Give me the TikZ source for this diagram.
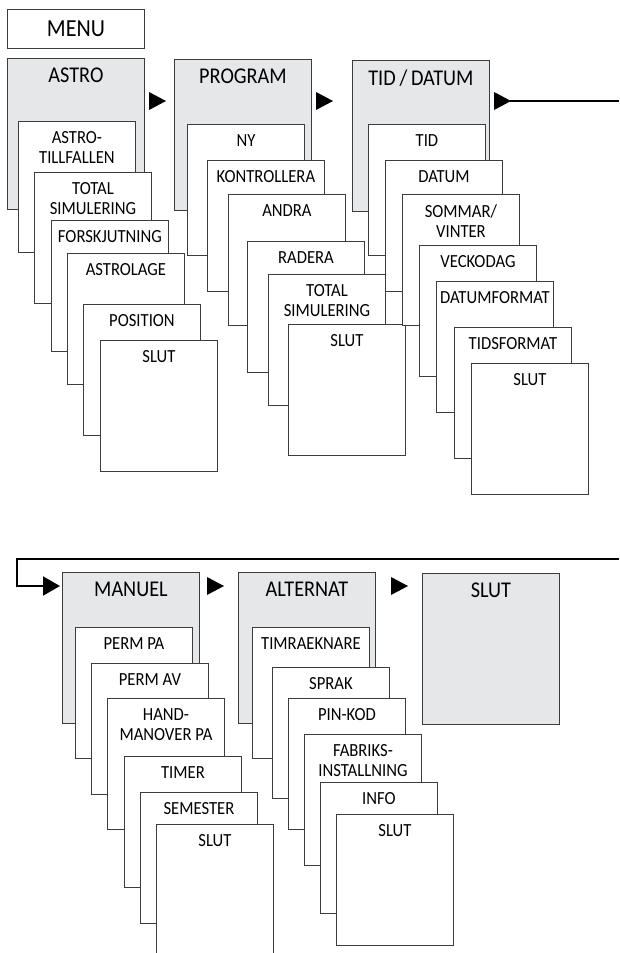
\documentclass[tikz,border=0pt]{standalone}
\usepackage{fontspec}
\setmainfont{Carlito}[FakeStretch=0.9]
\usetikzlibrary{arrows.meta}
\definecolor{panelgray}{RGB}{230,231,232}
\definecolor{edgegray}{RGB}{60,60,60}

\begin{document}
\begin{tikzpicture}[x=1pt, y=-1pt, >={Triangle[length=17pt,width=19pt]},
    box/.style={draw=edgegray, line width=0.9pt, anchor=north west, inner sep=0pt},
    panel/.style={box, fill=panelgray, minimum width=137pt, minimum height=151pt},
    card/.style={box, fill=white, minimum width=117pt, minimum height=131pt},
    cardtxt/.style={anchor=north, align=center, inner sep=0pt, yshift=-10pt, font=\fontsize{18.5}{20}\selectfont},
    paneltxt/.style={cardtxt, font=\fontsize{22.5}{24}\selectfont},
    link/.style={line width=2pt, black}]
  \clip (0,0) rectangle (619,953);
  \node[box, minimum width=137pt, minimum height=39pt, font=\fontsize{24.5}{26}\selectfont] (menu) at (7,9) {MENU};

  \node[panel, label={[paneltxt]north:ASTRO}] (astro) at (7,58) {};
  \node[card, label={[cardtxt]north:{ASTRO-\\TILLFALLEN}}] (as1) at (18,121) {};
  \node[card, label={[cardtxt]north:{TOTAL\\SIMULERING}}] (as2) at (34,172) {};
  \node[card, label={[cardtxt]north:FORSKJUTNING}] (as3) at (51,220) {};
  \node[card, label={[cardtxt]north:ASTROLAGE}] (as4) at (67,253) {};
  \node[card, label={[cardtxt]north:POSITION}] (as5) at (83,304) {};
  \node[card, label={[cardtxt]north:SLUT}] (as6) at (100,340) {};

  \node[panel, label={[paneltxt]north:PROGRAM}] (prog) at (174,59) {};
  \node[card, label={[cardtxt]north:NY}] (pr1) at (187,124) {};
  \node[card, label={[cardtxt]north:KONTROLLERA}] (pr2) at (207,160) {};
  \node[card, label={[cardtxt]north:ANDRA}] (pr3) at (228,194) {};
  \node[card, label={[cardtxt]north:RADERA}] (pr4) at (247,241) {};
  \node[card, label={[cardtxt]north:{TOTAL\\SIMULERING}}] (pr5) at (268,274) {};
  \node[card, label={[cardtxt]north:SLUT}] (pr6) at (288,324) {};

  \node[panel, label={[paneltxt]north:TID\,/\,DATUM}] (tid) at (352,60) {};
  \node[card, label={[cardtxt]north:TID}] (td1) at (368,124) {};
  \node[card, label={[cardtxt]north:DATUM}] (td2) at (385,160) {};
  \node[card, label={[cardtxt]north:{SOMMAR/\\VINTER}}] (td3) at (402,194) {};
  \node[card, label={[cardtxt]north:VECKODAG}] (td4) at (419,245) {};
  \node[card, label={[cardtxt]north:DATUMFORMAT}] (td5) at (436,281) {};
  \node[card, label={[cardtxt]north:TIDSFORMAT}] (td6) at (454,327) {};
  \node[card, label={[cardtxt]north:SLUT}] (td7) at (471,363) {};

  \node[panel, label={[paneltxt]north:MANUEL}] (manuel) at (62,572) {};
  \node[card, label={[cardtxt]north:PERM PA}] (ma1) at (75,627) {};
  \node[card, label={[cardtxt]north:PERM AV}] (ma2) at (91,663) {};
  \node[card, label={[cardtxt]north:{HAND-\\MANOVER PA}}] (ma3) at (107,698) {};
  \node[card, label={[cardtxt]north:TIMER}] (ma4) at (124,756) {};
  \node[card, label={[cardtxt]north:SEMESTER}] (ma5) at (140,792) {};
  \node[card, label={[cardtxt]north:SLUT}] (ma6) at (156,824) {};

  \node[panel, label={[paneltxt]north:ALTERNAT}] (alt) at (238,572) {};
  \node[card, label={[cardtxt]north:TIMRAEKNARE}] (al1) at (252,627) {};
  \node[card, label={[cardtxt]north:SPRAK}] (al2) at (272,667) {};
  \node[card, label={[cardtxt]north:PIN-KOD}] (al3) at (288,698) {};
  \node[card, label={[cardtxt]north:{FABRIKS-\\INSTALLNING}}] (al4) at (304,734) {};
  \node[card, label={[cardtxt]north:INFO}] (al5) at (320,782) {};
  \node[card, label={[cardtxt]north:SLUT}] (al6) at (336,814) {};

  \node[panel, label={[paneltxt]north:SLUT}] (slut) at (422,573) {};

  \fill (149,92) -- (166,101) -- (149,110) -- cycle;
  \fill (316,92) -- (333,101) -- (316,110) -- cycle;
  \fill (494,92) -- (511,101) -- (494,110) -- cycle;
  \fill (207,577) -- (224,586) -- (207,595) -- cycle;
  \fill (391,577) -- (408,586) -- (391,595) -- cycle;

  \coordinate (tipA) at (510,101);
  \coordinate (edgeA) at (619,101);
  \coordinate (edgeB) at (619,559);
  \coordinate (turn) at (17,586);
  \draw[link] (tipA) -- (edgeA);
  \draw[link, ->, shorten >=2pt] (edgeB) -- (turn |- edgeB) -- (turn) -- (turn -| manuel.west);
\end{tikzpicture}
\end{document}
